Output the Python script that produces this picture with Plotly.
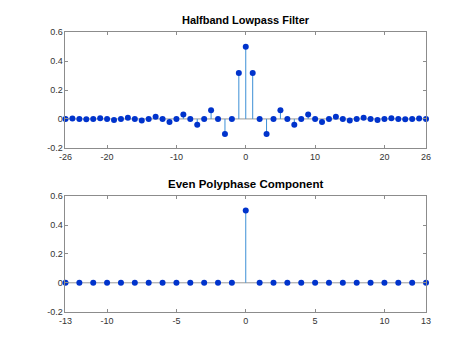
import plotly.graph_objects as go

# Halfband lowpass filter coefficients, n = -26..26
n_top = list(range(-26, 27))
h_pos = [0.5, 0.318, 0, -0.104, 0, 0.06, 0, -0.04, 0, 0.031, 0, -0.022, 0, 0.016,
         0, -0.011, 0, 0.0075, 0, -0.007, 0, 0.004, 0, -0.003, 0, 0.003, 0]
h_top = h_pos[:0:-1] + h_pos

# Even polyphase component, n = -13..13
n_bot = list(range(-13, 14))
h_bot = [0.5 if k == 0 else 0 for k in n_bot]

top_xticks = [-26, -20, -10, 0, 10, 20, 26]
bot_xticks = [-13, -10, -5, 0, 5, 10, 13]
yticks = [-0.2, 0, 0.2, 0.4, 0.6]
ytick_labels = ["-0.2", "0", "0.2", "0.4", "0.6"]

stem_color = "#3d8fd6"
marker_color = "#0033cc"
font = "Liberation Sans, Arial, sans-serif"


def stems(xs, ys):
    sx, sy = [], []
    for x, y in zip(xs, ys):
        sx += [x, x, None]
        sy += [0, y, None]
    return sx, sy


fig = go.Figure()
for xs, ys, xa, ya in [(n_top, h_top, "x", "y"), (n_bot, h_bot, "x2", "y2")]:
    fig.add_trace(go.Scatter(x=[min(xs), max(xs)], y=[0, 0], mode="lines",
                             line=dict(color="#999999", width=1),
                             xaxis=xa, yaxis=ya, hoverinfo="skip"))
    sx, sy = stems(xs, ys)
    fig.add_trace(go.Scatter(x=sx, y=sy, mode="lines",
                             line=dict(color=stem_color, width=1),
                             xaxis=xa, yaxis=ya, hoverinfo="skip"))
    fig.add_trace(go.Scatter(x=xs, y=ys, mode="markers",
                             marker=dict(color=marker_color, size=6),
                             xaxis=xa, yaxis=ya, cliponaxis=False))

axis_common = dict(showgrid=False, zeroline=False, showline=True, mirror="ticks",
                   linecolor="#8c8c8c", linewidth=1, ticks="inside", ticklen=3,
                   tickcolor="#8c8c8c", tickfont=dict(family=font, size=9, color="#333333"))

fig.update_layout(
    width=474, height=355, margin=dict(l=0, r=0, t=0, b=0),
    paper_bgcolor="white", plot_bgcolor="white", showlegend=False,
    xaxis=dict(domain=[0.1266, 0.907], range=[-26, 26], tickvals=top_xticks,
               ticktext=[str(v) for v in top_xticks], anchor="y", **axis_common),
    yaxis=dict(domain=[0.586, 0.921], range=[-0.2, 0.6], tickvals=yticks,
               ticktext=ytick_labels, anchor="x", **axis_common),
    xaxis2=dict(domain=[0.1266, 0.907], range=[-13, 13], tickvals=bot_xticks,
                ticktext=[str(v) for v in bot_xticks], anchor="y2", **axis_common),
    yaxis2=dict(domain=[0.111, 0.446], range=[-0.2, 0.6], tickvals=yticks,
                ticktext=ytick_labels, anchor="x2", **axis_common),
    annotations=[
        dict(text="<b>Halfband Lowpass Filter</b>", x=0.517, y=0.921, xref="paper",
             yref="paper", xanchor="center", yanchor="bottom", yshift=4, showarrow=False,
             font=dict(family=font, size=11, color="black")),
        dict(text="<b>Even Polyphase Component</b>", x=0.517, y=0.446, xref="paper",
             yref="paper", xanchor="center", yanchor="bottom", yshift=4, showarrow=False,
             font=dict(family=font, size=11.5, color="black")),
    ],
)

fig.write_html("out.html")
